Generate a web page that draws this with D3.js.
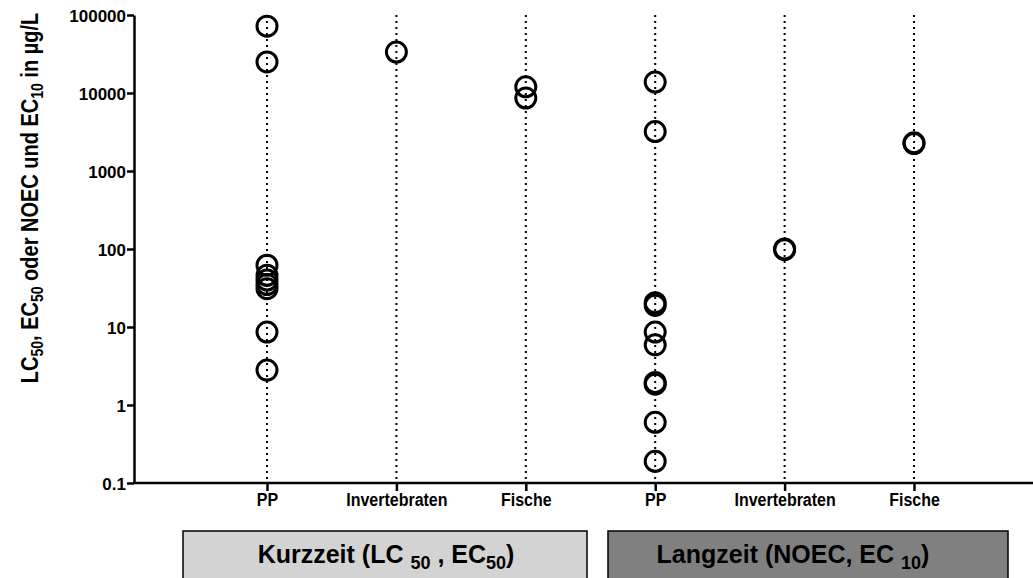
<!DOCTYPE html>
<html>
<head>
<meta charset="utf-8">
<script src="https://cdn.jsdelivr.net/npm/d3@7.9.0/dist/d3.min.js"></script>
<style>
  body { margin: 0; background: #fff; }
  svg { display: block; font-family: "Liberation Sans", Arial, sans-serif; font-weight: bold; }
</style>
</head>
<body>
<div id="chart"></div>
<script>
// categories along the x axis (two groups of three)
const categoryKeys = ['K-PP', 'K-Inv', 'K-Fi', 'L-PP', 'L-Inv', 'L-Fi'];
const categoryLabels = ['PP', 'Invertebraten', 'Fische', 'PP', 'Invertebraten', 'Fische'];

// values in µg/L
const kurzPP = [72000, 25000, 62, 46, 40, 35, 31, 8.6, 2.8];
const kurzInv = [33500];
const kurzFische = [12000, 8600];
const langPP = [13800, 3200, 20.5, 19, 8.6, 5.9, 1.95, 1.85, 0.6, 0.19];
const langInv = [100, 98];
const langFische = [2300, 2250];

const yTicks = [0.1, 1, 10, 100, 1000, 10000, 100000];

const seriesByKey = {
  'K-PP': kurzPP, 'K-Inv': kurzInv, 'K-Fi': kurzFische,
  'L-PP': langPP, 'L-Inv': langInv, 'L-Fi': langFische,
};
const points = categoryKeys.flatMap(k => seriesByKey[k].map(v => ({ key: k, value: v })));

const width = 1033;
const height = 578;
const axisX = 134;
const axisY = 483;
const plotTop = 15;

const svg = d3.select('#chart')
  .append('svg')
  .attr('width', width)
  .attr('height', height);

const x = d3.scalePoint()
  .domain(categoryKeys)
  .range([267, 914]);

const y = d3.scaleLog()
  .domain([0.1, 100000])
  .range([axisY, plotTop]);

// dotted vertical guides
svg.append('g')
  .selectAll('line')
  .data(categoryKeys)
  .join('line')
  .attr('x1', d => x(d))
  .attr('x2', d => x(d))
  .attr('y1', plotTop)
  .attr('y2', axisY)
  .attr('stroke', '#000')
  .attr('stroke-width', 2)
  .attr('stroke-dasharray', '2,4');

// y axis
const yAxis = svg.append('g')
  .attr('transform', `translate(${axisX},0)`)
  .call(d3.axisLeft(y).tickValues(yTicks).tickFormat(d => String(d)).tickSize(7).tickSizeOuter(0));
yAxis.select('.domain').attr('stroke-width', 2.5);
yAxis.selectAll('.tick line').attr('stroke-width', 2.5);
yAxis.selectAll('.tick text')
  .attr('x', -8)
  .attr('dy', '0.36em')
  .style('font-size', '17px')
  .style('font-family', '"Liberation Sans", Arial, sans-serif')
  .style('font-weight', 'bold')
  .attr('fill', '#000');

// x axis
const xAxis = svg.append('g')
  .attr('transform', `translate(0,${axisY})`)
  .call(d3.axisBottom(x).tickFormat((d, i) => categoryLabels[i]).tickSize(8).tickSizeOuter(0));
xAxis.select('.domain').remove();
xAxis.append('line')
  .attr('x1', axisX - 1)
  .attr('x2', width)
  .attr('stroke', '#000')
  .attr('stroke-width', 2.5);
xAxis.selectAll('.tick line').attr('stroke-width', 2.5);
xAxis.selectAll('.tick text')
  .attr('y', 10)
  .style('font-size', '16px')
  .style('font-family', '"Liberation Sans", Arial, sans-serif')
  .style('font-weight', 'bold')
  .attr('transform', 'scale(1,1.1)')
  .attr('fill', '#000');

// data points
svg.append('g')
  .selectAll('circle')
  .data(points)
  .join('circle')
  .attr('cx', d => x(d.key))
  .attr('cy', d => y(d.value))
  .attr('r', 10)
  .attr('fill', 'none')
  .attr('stroke', '#000')
  .attr('stroke-width', 3);

// y axis title
const yTitle = svg.append('text')
  .attr('transform', 'translate(38,198) rotate(-90) scale(1,1.2)')
  .attr('text-anchor', 'middle')
  .style('font-size', '20px');
[['LC', false], ['50', true], [', EC', false], ['50', true], [' oder NOEC und EC', false], ['10', true], [' in µg/L', false]]
  .forEach(([t, sub], i, arr) => {
    const prevSub = i > 0 && arr[i - 1][1];
    yTitle.append('tspan')
      .attr('dy', sub ? 4 : (prevSub ? -4 : 0))
      .style('font-size', sub ? '14px' : '20px')
      .text(t);
  });

// group boxes below the axis
const boxes = [
  { x0: 183, x1: 587, fill: '#d3d3d3', tx: 386,
    parts: [['Kurzzeit (LC ', false], ['50', true], [' , EC', false], ['50', true], [')', false]] },
  { x0: 608, x1: 1008, fill: '#808080', tx: 793,
    parts: [['Langzeit (NOEC, EC ', false], ['10', true], [')', false]] },
];
boxes.forEach(b => {
  svg.append('rect')
    .attr('x', b.x0)
    .attr('y', 531)
    .attr('width', b.x1 - b.x0)
    .attr('height', 60)
    .attr('fill', b.fill)
    .attr('stroke', '#000')
    .attr('stroke-width', 1.5);
  const t = svg.append('text')
    .attr('x', b.tx)
    .attr('y', 563)
    .attr('text-anchor', 'middle')
    .style('font-size', '25px');
  b.parts.forEach(([s, sub], i, arr) => {
    const prevSub = i > 0 && arr[i - 1][1];
    t.append('tspan')
      .attr('dy', sub ? 6 : (prevSub ? -6 : 0))
      .style('font-size', sub ? '18px' : '25px')
      .text(s);
  });
});
</script>
</body>
</html>
